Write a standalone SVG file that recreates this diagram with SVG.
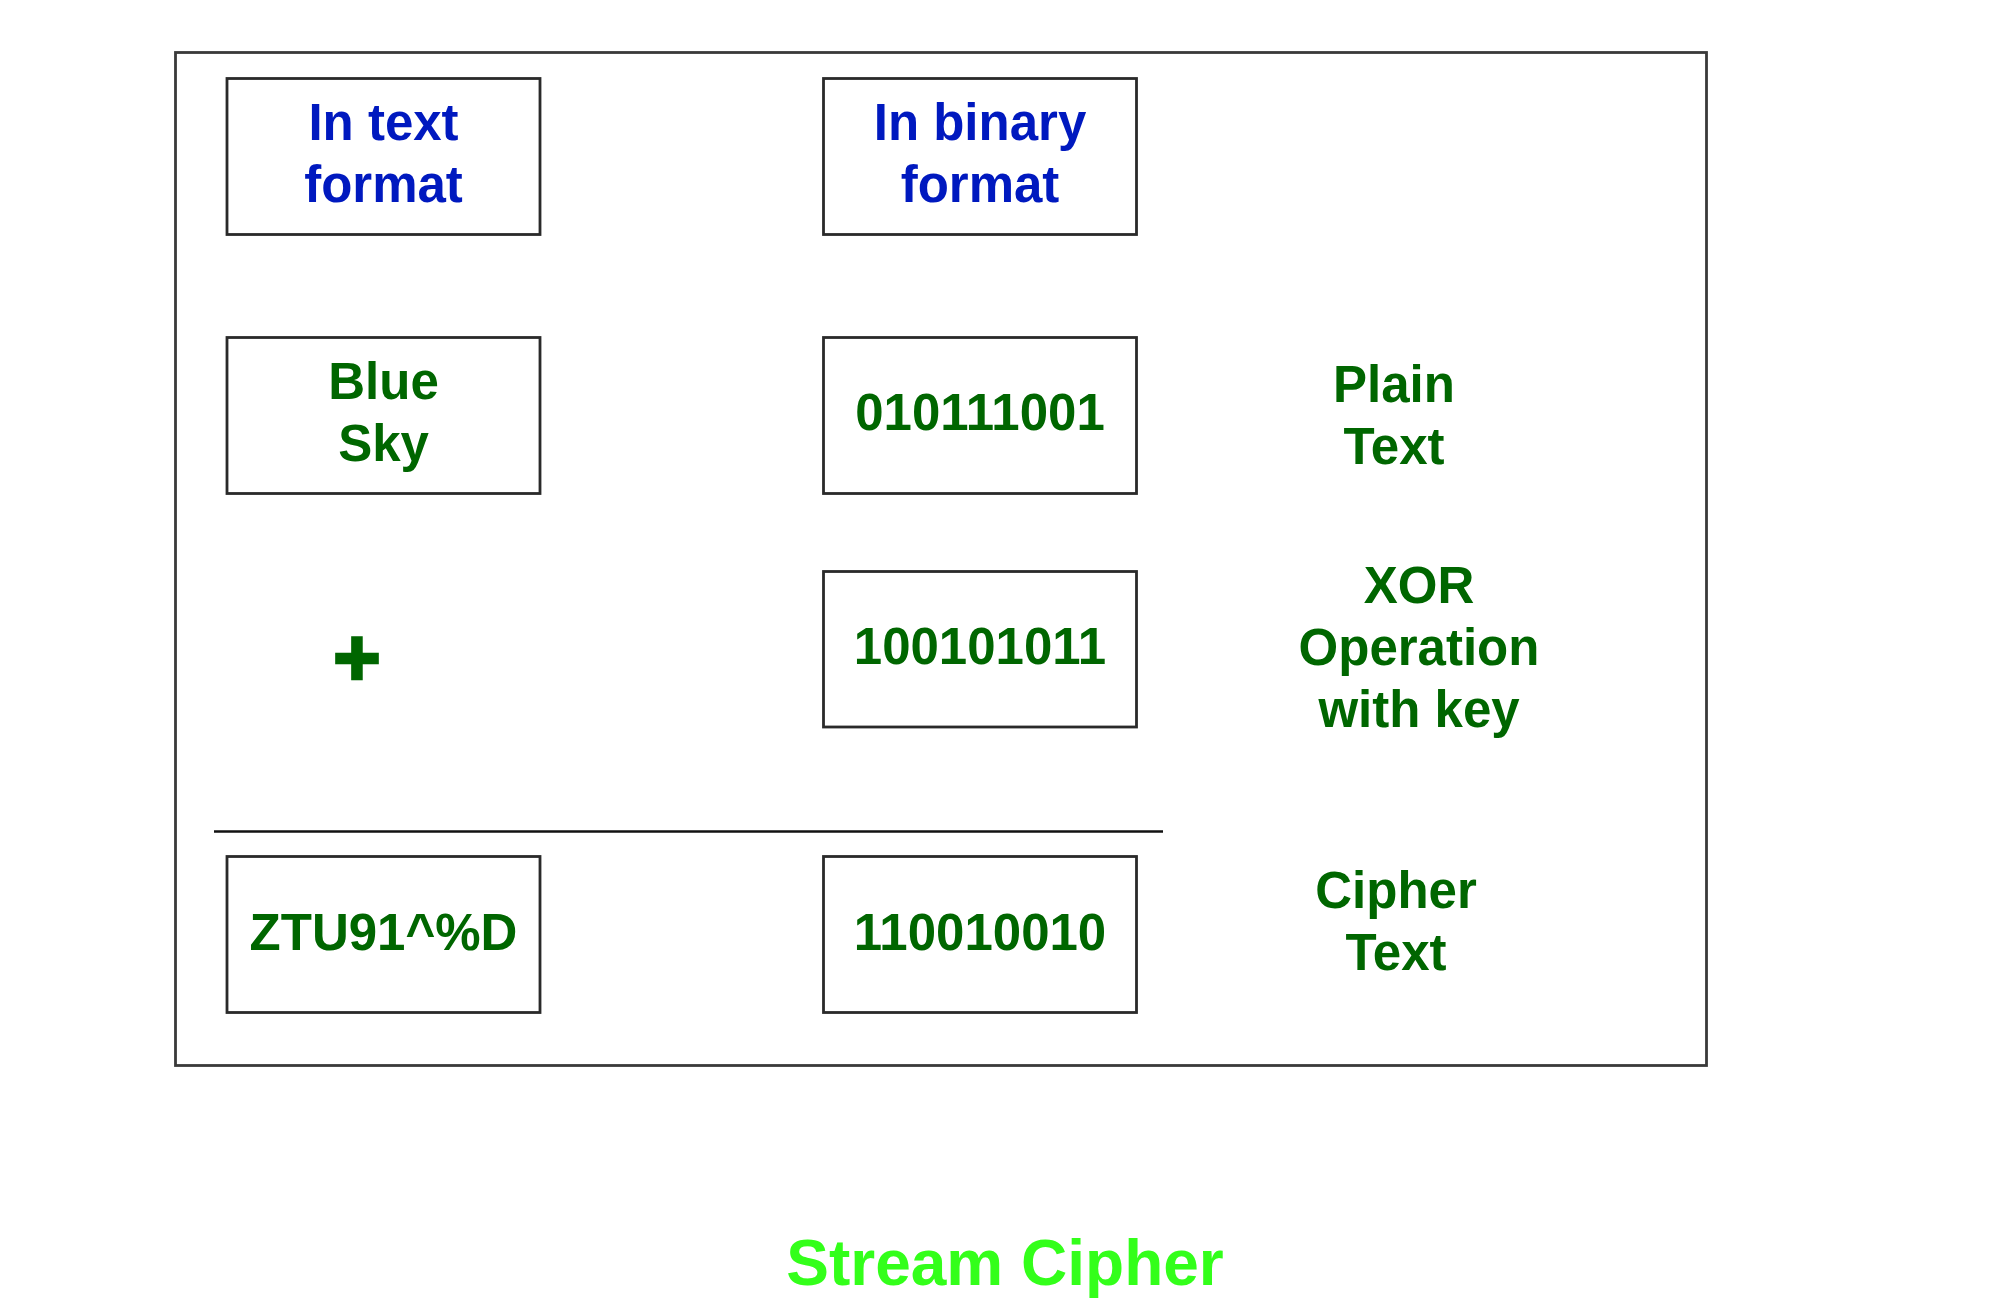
<svg xmlns="http://www.w3.org/2000/svg" width="2000" height="1311" viewBox="0 0 2000 1311">
<style>
.box{fill:#fff;stroke:#2a2a2a;stroke-width:2.8}
.t{font-family:"Liberation Sans",Arial,Helvetica,sans-serif;font-weight:bold;font-size:51px;text-anchor:middle}
.blue{fill:#0019bf}
.green{fill:#006600}
</style>
<rect width="2000" height="1311" fill="#fff"/>
<g id="frame">
<rect x="175.5" y="52.5" width="1531" height="1013" fill="none" stroke="#3a3a3a" stroke-width="2.8"/>
</g>
<g id="connectors">
<line x1="214" y1="831.5" x2="1163" y2="831.5" stroke="#111" stroke-width="2.6"/>
</g>
<g id="text-format">
<rect class="box" x="227" y="78.5" width="313" height="156"/>
<text class="t blue" x="383.5" y="139.5">In text</text>
<text class="t blue" x="383.5" y="201.5">format</text>
</g>
<g id="binary-format">
<rect class="box" x="823.5" y="78.5" width="313" height="156"/>
<text class="t blue" x="980" y="139.5">In binary</text>
<text class="t blue" x="980" y="201.5">format</text>
</g>
<g id="blue-sky">
<rect class="box" x="227" y="337.5" width="313" height="156"/>
<text class="t green" x="383.5" y="399">Blue</text>
<text class="t green" x="383.5" y="461">Sky</text>
</g>
<g id="plain-binary">
<rect class="box" x="823.5" y="337.5" width="313" height="156"/>
<text class="t green" x="980" y="429.5">010111001</text>
</g>
<g id="plus">
<text class="t green" x="357" y="685" style="font-size:82px" stroke="#006600" stroke-width="2.5">+</text>
</g>
<g id="key-binary">
<rect class="box" x="823.5" y="571.5" width="313" height="155.5"/>
<text class="t green" x="980" y="664">100101011</text>
</g>
<g id="cipher-text-box">
<rect class="box" x="227" y="856.5" width="313" height="156"/>
<text class="t green" x="383.5" y="949.5">ZTU91^%D</text>
</g>
<g id="cipher-binary">
<rect class="box" x="823.5" y="856.5" width="313" height="156"/>
<text class="t green" x="980" y="949.5">110010010</text>
</g>
<g id="label-plain">
<text class="t green" x="1394" y="401.5">Plain</text>
<text class="t green" x="1394" y="463.5">Text</text>
</g>
<g id="label-xor">
<text class="t green" x="1419" y="603">XOR</text>
<text class="t green" x="1419" y="665">Operation</text>
<text class="t green" x="1419" y="727">with key</text>
</g>
<g id="label-cipher">
<text class="t green" x="1396" y="907.5">Cipher</text>
<text class="t green" x="1396" y="969.5">Text</text>
</g>
<g id="title">
<text class="t" x="1005" y="1284.5" style="font-size:64px;fill:#33ff1a">Stream Cipher</text>
</g>
</svg>
